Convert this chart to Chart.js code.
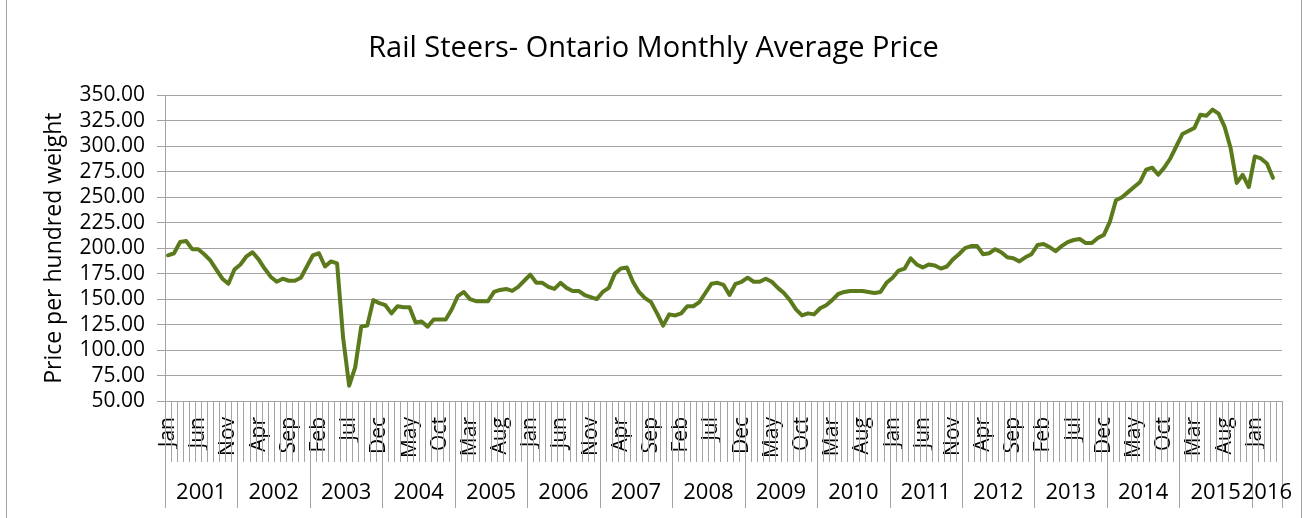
<!DOCTYPE html>
<html>
<head>
<meta charset="utf-8">
<title>Rail Steers- Ontario Monthly Average Price</title>
<script src="https://cdn.jsdelivr.net/npm/chart.js@4.4.1/dist/chart.umd.min.js"></script>
<style>
  html, body { margin: 0; padding: 0; background: #fff; }
  #wrap { width: 1307px; height: 518px; }
</style>
</head>
<body>
<div id="wrap"><canvas id="priceChart" width="1307" height="518"></canvas></div>
<script>
// Monthly average price, $ per hundred weight
const years = ["2001", "2002", "2003", "2004", "2005", "2006", "2007", "2008",
               "2009", "2010", "2011", "2012", "2013", "2014", "2015", "2016"];
const monthNames = ["Jan", "Feb", "Mar", "Apr", "May", "Jun", "Jul", "Aug", "Sep", "Oct", "Nov", "Dec"];

const price2001 = [193, 195, 206, 207, 199, 199, 194, 188, 179, 170, 165, 179];
const price2002 = [184, 192, 196, 189, 180, 172, 167, 170, 168, 168, 171, 182];
const price2003 = [193, 195, 182, 187, 185, 112, 65, 83, 123, 124, 149, 146];
const price2004 = [144, 136, 143, 142, 142, 127, 128, 123, 130, 130, 130, 140];
const price2005 = [153, 157, 150, 148, 148, 148, 157, 159, 160, 158, 162, 168];
const price2006 = [174, 166, 166, 162, 160, 166, 161, 158, 158, 154, 152, 150];
const price2007 = [157, 161, 175, 180, 181, 167, 157, 151, 147, 136, 124, 135];
const price2008 = [134, 136, 143, 143, 147, 156, 165, 166, 164, 154, 165, 167];
const price2009 = [171, 167, 167, 170, 167, 161, 156, 149, 140, 134, 136, 135];
const price2010 = [141, 144, 149, 155, 157, 158, 158, 158, 157, 156, 157, 166];
const price2011 = [171, 178, 180, 190, 184, 181, 184, 183, 180, 182, 189, 194];
const price2012 = [200, 202, 202, 194, 195, 199, 196, 191, 190, 187, 191, 194];
const price2013 = [203, 204, 201, 197, 202, 206, 208, 209, 205, 205, 210, 213];
const price2014 = [226, 247, 250, 255, 260, 265, 277, 279, 272, 279, 288, 300];
const price2015 = [312, 315, 318, 331, 330, 336, 332, 319, 298, 264, 272, 260];
const price2016 = [290, 288, 283, 269, null];

const yTicks = [50, 75, 100, 125, 150, 175, 200, 225, 250, 275, 300, 325, 350];

const priceByYear = [price2001, price2002, price2003, price2004, price2005, price2006,
                     price2007, price2008, price2009, price2010, price2011, price2012,
                     price2013, price2014, price2015, price2016];

// flatten into one category axis, remember where each year starts
const labels = [];
const prices = [];
const yearStart = [];
priceByYear.forEach((list, y) => {
    yearStart.push(labels.length);
    list.forEach((v, m) => {
        labels.push(monthNames[m]);
        prices.push(v);
    });
});
yearStart.push(labels.length);

const gridColor = "#a3a3a3";
const fontFamily = "'Open Sans', sans-serif";
Chart.defaults.font.family = fontFamily;
Chart.defaults.color = "#000";

// second level of the category axis: month tick marks, year separators and year names
const yearAxis = {
    id: "yearAxis",
    afterDraw(chart) {
        const ctx = chart.ctx;
        const area = chart.chartArea;
        const step = (area.right - area.left) / labels.length;
        ctx.save();
        ctx.strokeStyle = gridColor;
        ctx.lineWidth = 1;
        ctx.beginPath();
        for (let i = 0; i <= labels.length; i++) {
            const px = Math.round(area.left + i * step) + 0.5;
            const long = yearStart.includes(i);
            ctx.moveTo(px, area.bottom);
            ctx.lineTo(px, area.bottom + (long ? 107 : 61));
        }
        // outer chart border
        ctx.moveTo(6.5, 0);
        ctx.lineTo(6.5, 518);
        ctx.moveTo(1301.5, 0);
        ctx.lineTo(1301.5, 518);
        ctx.stroke();

        ctx.fillStyle = "#000";
        ctx.font = "22px " + fontFamily;
        ctx.textAlign = "center";
        ctx.textBaseline = "middle";
        years.forEach((yr, k) => {
            const mid = area.left + (yearStart[k] + yearStart[k + 1]) / 2 * step;
            ctx.fillText(yr, mid, area.bottom + 92);
        });
        ctx.restore();
    }
};

new Chart(document.getElementById("priceChart"), {
    type: "line",
    data: {
        labels: labels,
        datasets: [{
            label: "Price",
            data: prices,
            borderColor: "#5b7a1c",
            borderWidth: 4,
            borderJoinStyle: "round",
            borderCapStyle: "round",
            pointRadius: 0,
            tension: 0,
            fill: false
        }]
    },
    options: {
        responsive: false,
        animation: false,
        layout: { padding: { left: 0, right: 0, top: 0, bottom: 0 } },
        plugins: {
            legend: { display: false },
            tooltip: { enabled: false },
            title: {
                display: true,
                text: "Rail Steers- Ontario Monthly Average Price",
                font: { size: 29, weight: "normal" },
                color: "#000",
                padding: { top: 31, bottom: 29.5 }
            }
        },
        scales: {
            x: {
                type: "category",
                offset: true,
                grid: { display: false, drawTicks: false },
                border: { display: false },
                ticks: {
                    autoSkip: false,
                    minRotation: 90,
                    maxRotation: 90,
                    padding: 16,
                    font: { size: 21 },
                    callback: function (value, index) {
                        return index % 5 === 0 ? this.getLabelForValue(value) : "";
                    }
                },
                afterFit(scale) {
                    scale.height = 117;
                    scale.paddingLeft = 0;
                    scale.paddingRight = 25;
                }
            },
            y: {
                min: 50,
                max: 350,
                afterBuildTicks(scale) { scale.ticks = yTicks.map(v => ({ value: v })); },
                grid: { color: gridColor, tickLength: 8, lineWidth: 1 },
                border: { display: true, color: gridColor },
                ticks: {
                    autoSkip: false,
                    padding: 12,
                    font: { size: 21 },
                    callback: v => v.toFixed(2)
                },
                title: {
                    display: true,
                    text: "Price per hundred weight",
                    font: { size: 23 },
                    color: "#000",
                    padding: { top: 41, bottom: 0 }
                },
                afterFit(scale) { scale.width = 165; }
            }
        }
    },
    plugins: [yearAxis]
});
</script>
</body>
</html>
